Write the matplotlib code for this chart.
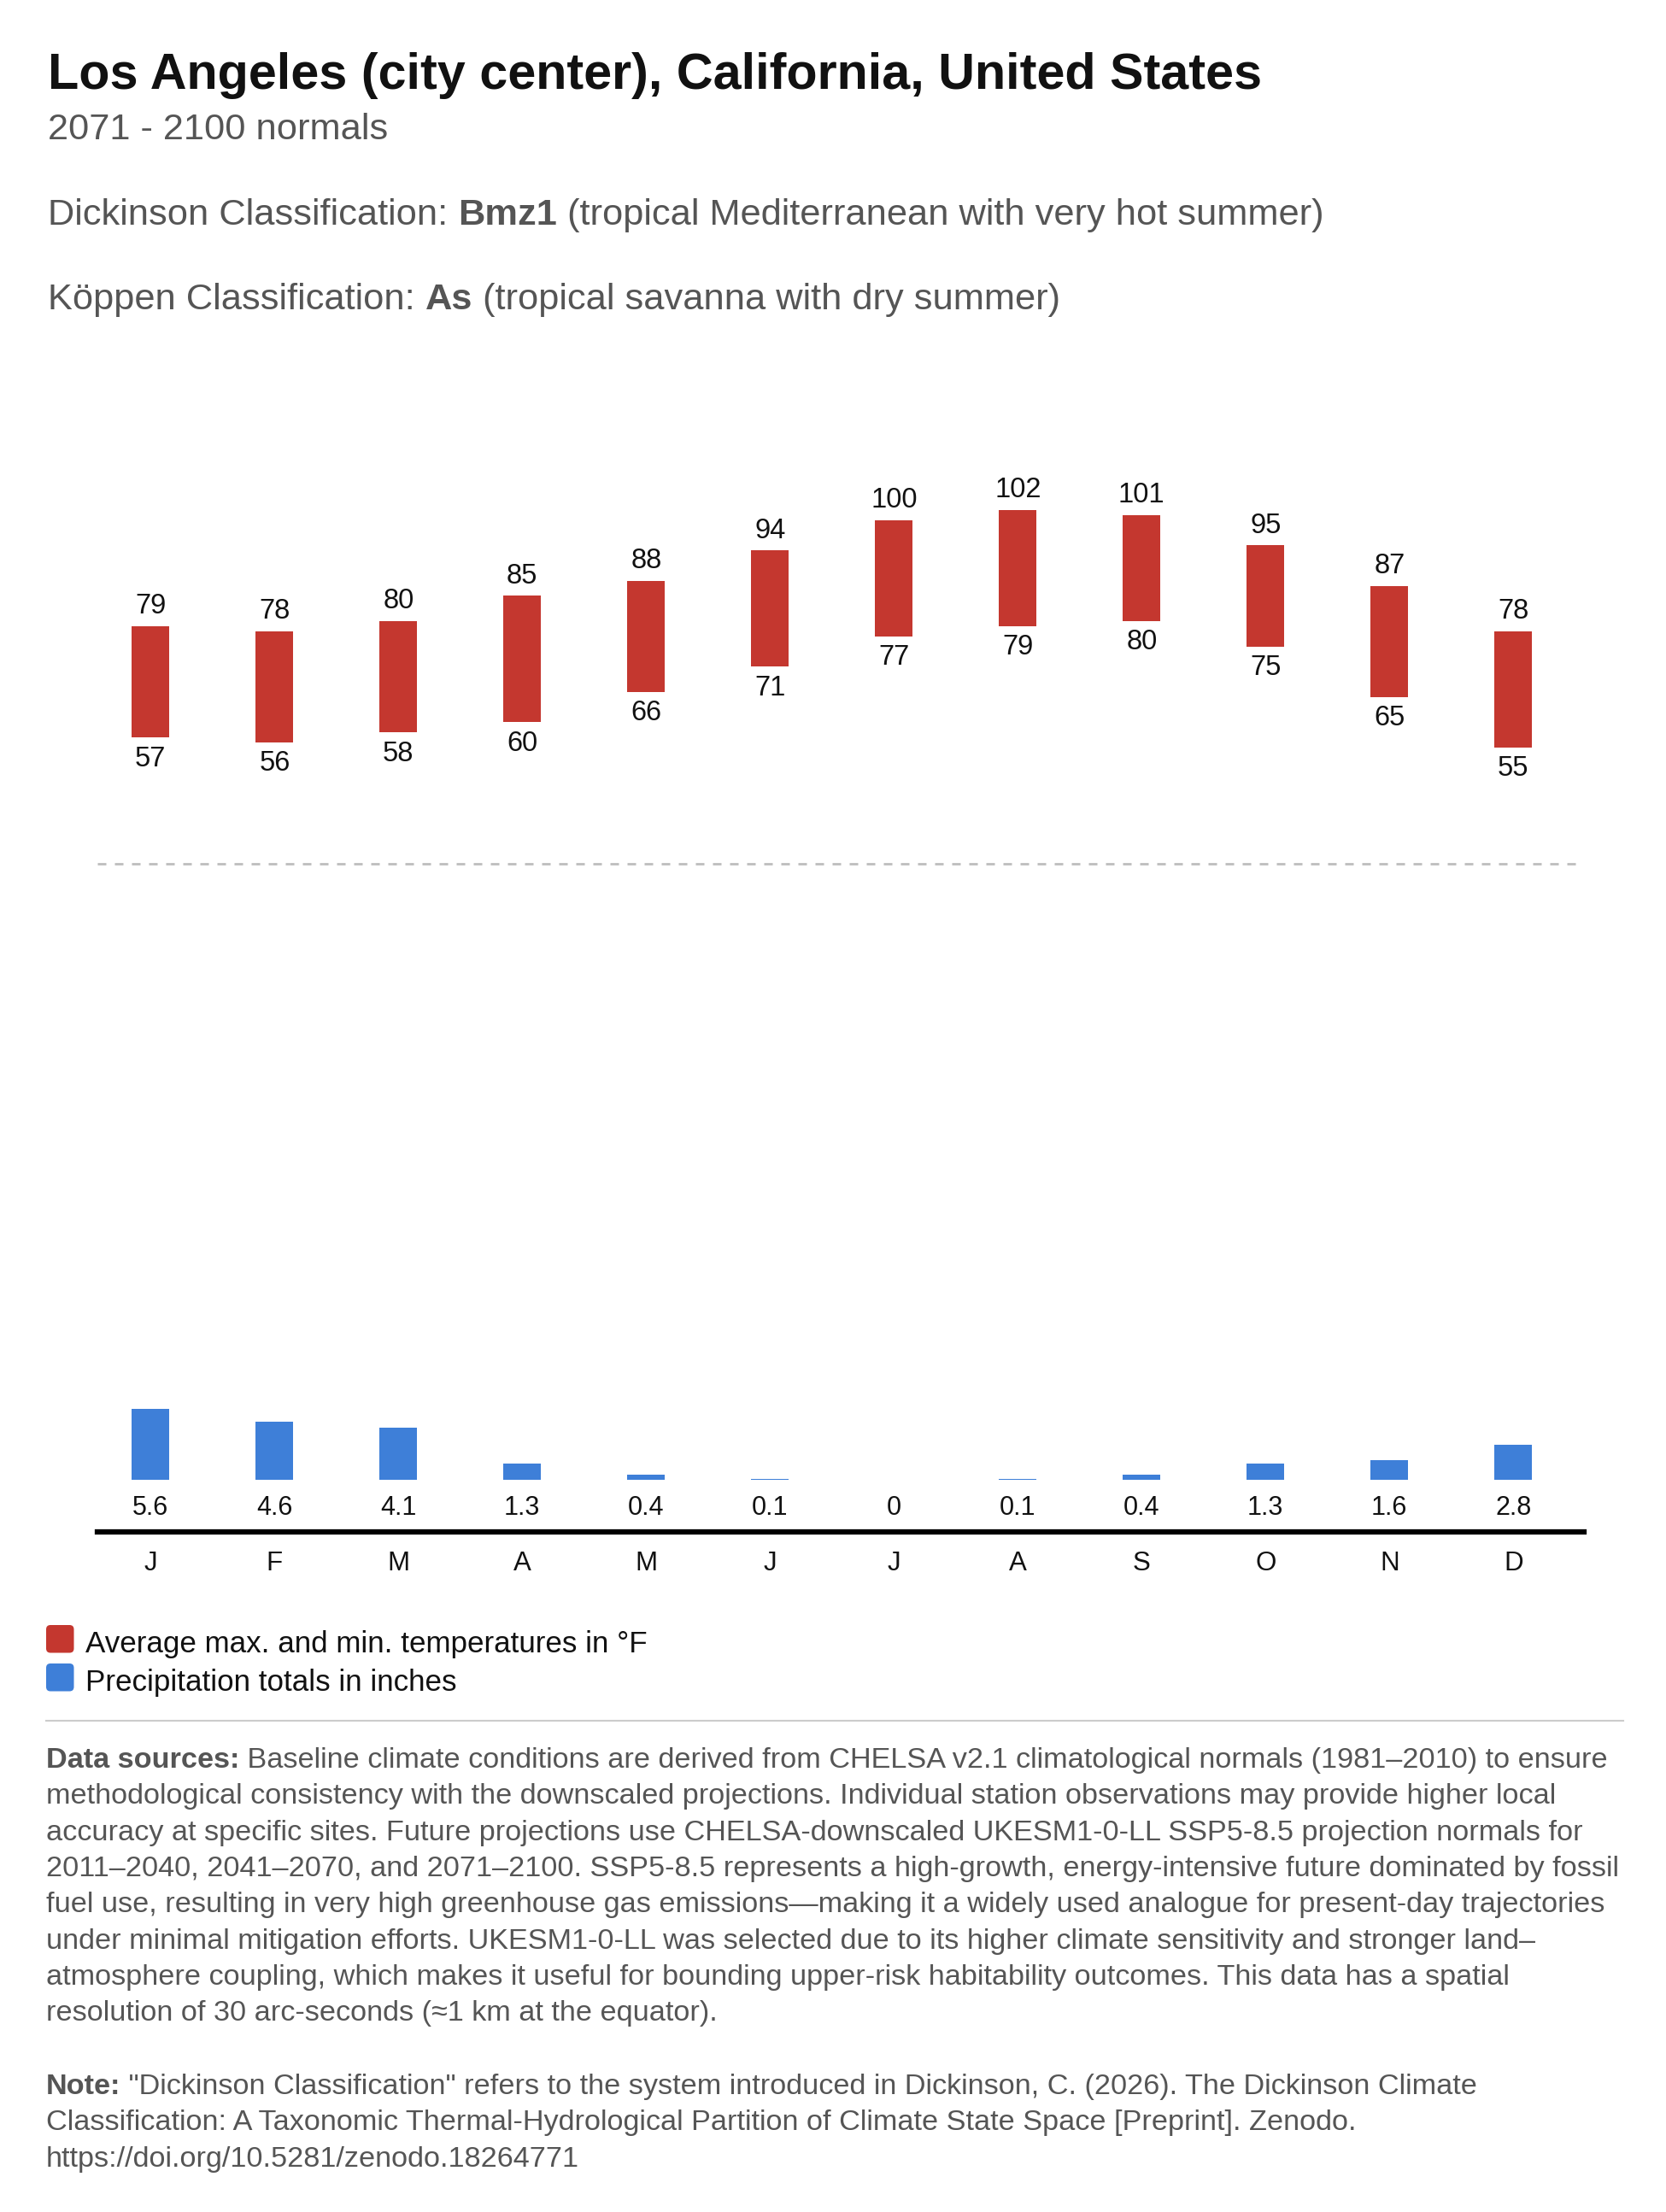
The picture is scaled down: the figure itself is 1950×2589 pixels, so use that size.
import matplotlib.pyplot as plt
from matplotlib.patches import FancyBboxPatch
from matplotlib.transforms import offset_copy
from matplotlib.lines import Line2D

# --- data ---
months = ["J", "F", "M", "A", "M", "J", "J", "A", "S", "O", "N", "D"]
t_max = [79, 78, 80, 85, 88, 94, 100, 102, 101, 95, 87, 78]
t_min = [57, 56, 58, 60, 66, 71, 77, 79, 80, 75, 65, 55]
precip = [5.6, 4.6, 4.1, 1.3, 0.4, 0.1, 0, 0.1, 0.4, 1.3, 1.6, 2.8]
freezing = 32

title = "Los Angeles (city center), California, United States"
subtitle = "2071 - 2100 normals"
dickinson = ("Dickinson Classification: ", "Bmz1", " (tropical Mediterranean with very hot summer)")
koppen = ("Köppen Classification: ", "As", " (tropical savanna with dry summer)")
legend_items = [("Average max. and min. temperatures in °F", "#c4372f"),
                ("Precipitation totals in inches", "#3e7fd8")]
sources = [
    "Baseline climate conditions are derived from CHELSA v2.1 climatological normals (1981–2010) to ensure",
    "methodological consistency with the downscaled projections. Individual station observations may provide higher local",
    "accuracy at specific sites. Future projections use CHELSA-downscaled UKESM1-0-LL SSP5-8.5 projection normals for",
    "2011–2040, 2041–2070, and 2071–2100. SSP5-8.5 represents a high-growth, energy-intensive future dominated by fossil",
    "fuel use, resulting in very high greenhouse gas emissions—making it a widely used analogue for present-day trajectories",
    "under minimal mitigation efforts. UKESM1-0-LL was selected due to its higher climate sensitivity and stronger land–",
    "atmosphere coupling, which makes it useful for bounding upper-risk habitability outcomes. This data has a spatial",
    "resolution of 30 arc-seconds (≈1 km at the equator).",
]
note = [
    ' "Dickinson Classification" refers to the system introduced in Dickinson, C. (2026). The Dickinson Climate',
    "Classification: A Taxonomic Thermal-Hydrological Partition of Climate State Space [Preprint]. Zenodo.",
    "https://doi.org/10.5281/zenodo.18264771",
]

RED = "#c4372f"
BLUE = "#3e7fd8"
GRAY = "#555555"
FONT = ["Liberation Sans", "DejaVu Sans"]
plt.rcParams["font.family"] = FONT

W, H = 1950, 2589
fig = plt.figure(figsize=(W / 100, H / 100), dpi=100)
fig.patch.set_facecolor("white")
renderer = fig.canvas.get_renderer()


def fx(px):
    return px / W


def fy(py):
    return 1 - py / H


def width_of(s, size, weight="normal"):
    t = fig.text(0, 0, s, fontsize=size, fontweight=weight)
    w = t.get_window_extent(renderer).width
    t.remove()
    return w


def fit_size(s, target, weight="normal", base=20):
    return base * target / width_of(s, base, weight)


def runs(x, y, parts, size, color):
    # parts: list of (text, weight)
    for s, weight in parts:
        if not s:
            continue
        t = fig.text(fx(x), fy(y), s, fontsize=size, fontweight=weight,
                     color=color, va="baseline", ha="left")
        x += t.get_window_extent(renderer).width


# --- header ---
fs_title = fit_size(title, 1421, "bold")
fig.text(fx(56), fy(104), title, fontsize=fs_title, fontweight="bold",
         color="#111111", va="baseline")
fs_sub = fit_size("".join(dickinson), 1506, base=20) * 0.985
fig.text(fx(56), fy(163), subtitle, fontsize=fs_sub, color=GRAY, va="baseline")
runs(56, 263, [(dickinson[0], "normal"), (dickinson[1], "bold"), (dickinson[2], "normal")], fs_sub, GRAY)
runs(56, 362, [(koppen[0], "normal"), (koppen[1], "bold"), (koppen[2], "normal")], fs_sub, GRAY)

# --- temperature panel ---
x = list(range(len(months)))
left_px, right_px, step = 114, 1854, 145.0
xlim = (-(176.3 - left_px) / step, 11 + (right_px - 1771.3) / step)
ax_t = fig.add_axes([fx(left_px), fy(1011), fx(right_px) - fx(left_px), (1011 - 440) / H])
ax_t.set_xlim(*xlim)
ax_t.set_ylim(freezing, 128.5)
ax_t.axis("off")
ax_t.bar(x, [hi - lo for hi, lo in zip(t_max, t_min)], bottom=t_min,
         width=0.303, color=RED, linewidth=0)
up = offset_copy(ax_t.transData, fig, y=23, units="dots")
down = offset_copy(ax_t.transData, fig, y=-25, units="dots")
for i in x:
    ax_t.text(i, t_max[i], str(t_max[i]), transform=up, ha="center",
              va="center", fontsize=23.5, color="#111111")
    ax_t.text(i, t_min[i], str(t_min[i]), transform=down, ha="center",
              va="center", fontsize=23.5, color="#111111")
ax_t.add_line(Line2D(list(xlim), [freezing, freezing], color="#bdbdbd", lw=2,
                     ls=(0, (3.6, 3.6)), clip_on=False))

# --- precipitation panel ---
ppi = 14.84
ax_p = fig.add_axes([fx(left_px), fy(1792.5), fx(right_px) - fx(left_px), (1792.5 - 1100) / H])
ax_p.set_xlim(*xlim)
ax_p.set_ylim(-(1792.5 - 1732.3) / ppi, (1732.3 - 1100) / ppi)
ax_p.bar(x, precip, width=0.303, color=BLUE, linewidth=0)
below = offset_copy(ax_p.transData, fig, y=-33, units="dots")
for i in x:
    ax_p.text(i, 0, f"{precip[i]:g}", transform=below, ha="center",
              va="center", fontsize=22, color="#111111")
for side in ["top", "left", "right"]:
    ax_p.spines[side].set_visible(False)
ax_p.spines["bottom"].set_linewidth(4.5)
ax_p.spines["bottom"].set_color("black")
ax_p.set_yticks([])
ax_p.set_xticks(x)
ax_p.set_xticklabels(months, fontsize=22.5, color="#111111")
ax_p.tick_params(axis="x", length=0, pad=16)
ax_p.patch.set_alpha(0)

# --- legend ---
fs_leg = fit_size(legend_items[0][0], 656)
for k, (label, color) in enumerate(legend_items):
    top = 1902 + k * 45
    fig.patches.append(FancyBboxPatch((fx(54), fy(top + 32.5)), fx(32.5), 32.5 / H,
                                      boxstyle="round,pad=0,rounding_size=0.0026",
                                      transform=fig.transFigure, facecolor=color,
                                      edgecolor="none", mutation_aspect=W / H))
    fig.text(fx(100.5), fy(top + 32), label, fontsize=fs_leg, color="#111111",
             va="baseline")

# --- footer ---
fig.add_artist(Line2D([fx(54), fx(1900)], [fy(2014), fy(2014)],
                      color="#cccccc", lw=1.5, transform=fig.transFigure))
fs_body = fit_size(sources[3], 1840)
for k, line in enumerate(sources):
    parts = [("Data sources:", "bold"), (" " + line, "normal")] if k == 0 else [(line, "normal")]
    runs(54, 2069 + k * 42.3, parts, fs_body, GRAY)
for k, line in enumerate(note):
    parts = [("Note:", "bold"), (line, "normal")] if k == 0 else [(line, "normal")]
    runs(54, 2451 + k * 42.3, parts, fs_body, GRAY)

fig.savefig("out.png", dpi=100, facecolor="white")
